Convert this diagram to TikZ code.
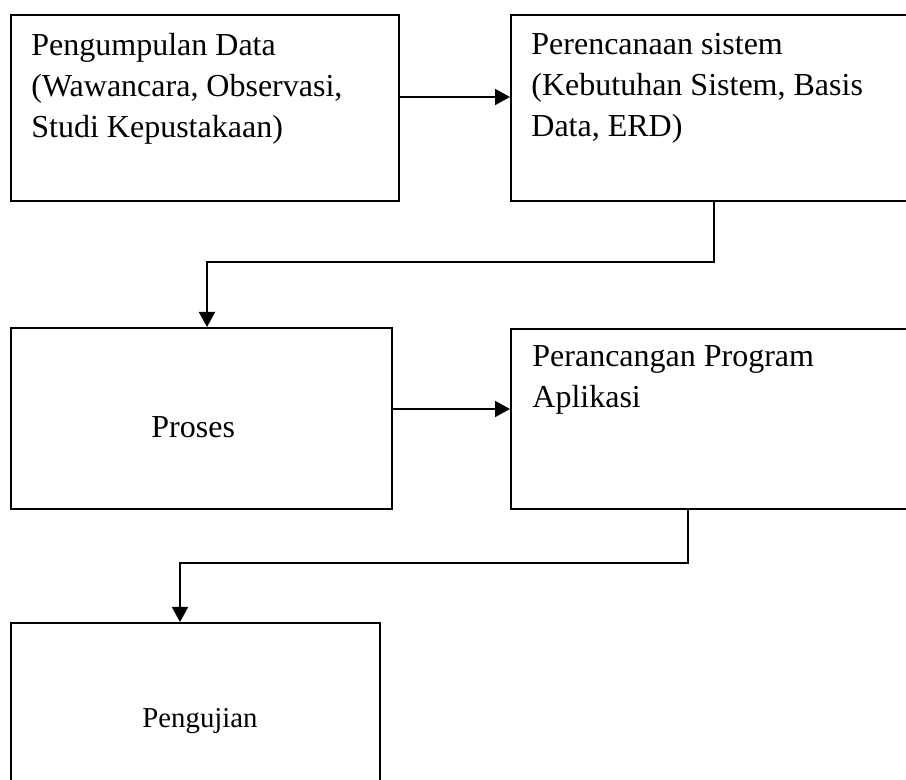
\documentclass[tikz,border=0pt]{standalone}
\usepackage{fontspec}
\setmainfont{Liberation Serif}
\usetikzlibrary{positioning, arrows.meta}

\begin{document}
\begin{tikzpicture}[
  x=0.5pt, y=-0.5pt, >={Triangle[length=7.5pt, width=8pt]},
  font=\fontsize{16}{20.5}\selectfont,
  box/.style={draw, line width=1pt, anchor=north west, inner sep=0pt,
    minimum height=93pt},
  txt/.style={inner sep=0pt, align=left},
  arr/.style={->, line width=1pt}
]
\clip (0,0) rectangle (906,780);
% kotak
\node[box, minimum width=194pt] (kumpul) at (10,14) {};
\node[box, minimum width=203pt] (rencana) at (510,14) {};
\node[box, minimum width=190.5pt, minimum height=90.5pt] (proses) at (10,327) {};
\node[box, minimum width=203pt, minimum height=90pt] (rancang) at (510,328) {};
\node[box, minimum width=184.5pt, minimum height=89pt] (uji) at (10,622) {};
% teks
\node[txt, below right=9.5pt and 10.5pt of kumpul.north west] (tkumpul)
  {Pengumpulan Data\\(Wawancara, Observasi,\\Studi Kepustakaan)};
\node[txt, below right=9.5pt and 10.5pt of rencana.north west] (trencana)
  {Perencanaan sistem\\(Kebutuhan Sistem, Basis\\Data, ERD)};
\node[txt, below right=8.5pt and 11pt of rancang.north west] (trancang)
  {Perancangan Program\\Aplikasi};
\node[txt, anchor=base west] (tproses) at (151,438) {Proses};
\node[txt, anchor=base west, font=\fontsize{14.4}{17}\selectfont] (tuji)
  at (142,727) {Pengujian};
% panah
\coordinate (a1) at ([yshift=5.5pt]kumpul.east);
\coordinate (a2) at ([yshift=4.75pt]proses.east);
\draw[arr] (a1) -- (a1 -| rencana.west);
\draw[arr] (rencana.south) -- ++(0,60) -| ([xshift=2.75pt]proses.north);
\draw[arr] (a2) -- (a2 -| rancang.west);
\draw[arr] ([xshift=-13pt]rancang.south) -- ++(0,53) -| ([xshift=-7.75pt]uji.north);
\end{tikzpicture}
\end{document}
